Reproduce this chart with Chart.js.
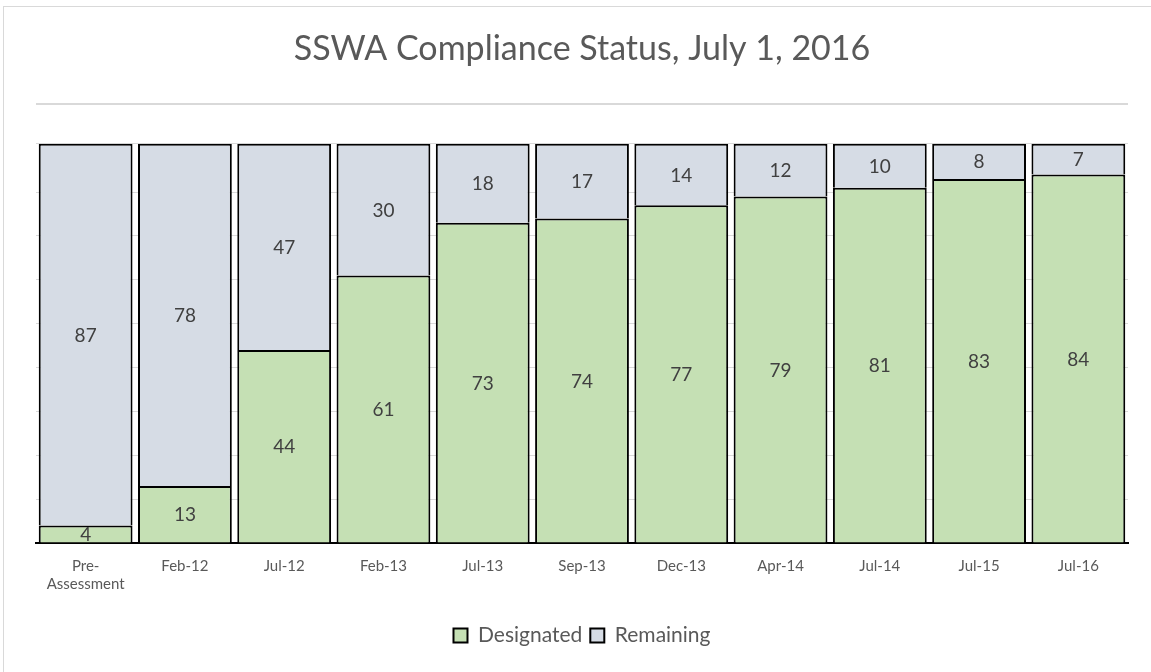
<!DOCTYPE html>
<html><head><meta charset="utf-8">
<script src="https://cdn.jsdelivr.net/npm/chart.js@4"></script>
<style>html,body{margin:0;padding:0;background:#fff}#wrap{width:1151px;height:672px}</style>
</head><body><div id="wrap"><canvas id="c" width="1151" height="672"></canvas></div>
<script>
const categories = [["Pre-","Assessment"],"Feb-12","Jul-12","Feb-13","Jul-13","Sep-13","Dec-13","Apr-14","Jul-14","Jul-15","Jul-16"];
const designated = [4,13,44,61,73,74,77,79,81,83,84];
const remaining = [87,78,47,30,18,17,14,12,10,8,7];
const titleText = "SSWA Compliance Status, July 1, 2016";
const FONT = "Lato, 'Open Sans', sans-serif";

const bgPlugin = {
  id:'bg',
  beforeDraw(chart){
    const ctx = chart.ctx;
    ctx.save();
    ctx.fillStyle='#fff'; ctx.fillRect(0,0,chart.width,chart.height);
    ctx.strokeStyle='#d9d9d9'; ctx.lineWidth=1;
    ctx.strokeRect(3.5,6.5,1150,670);
    const a = chart.chartArea;
    ctx.beginPath(); ctx.lineWidth=2; ctx.moveTo(a.left,104); ctx.lineTo(a.right,104); ctx.stroke();
    ctx.restore();
  }
};
const labelPlugin = {
  id:'vals',
  afterDatasetsDraw(chart){
    const ctx = chart.ctx;
    ctx.save();
    ctx.font = "19px " + FONT;
    ctx.fillStyle = '#404040';
    ctx.textAlign='center'; ctx.textBaseline='middle';
    chart.data.datasets.forEach((ds,i)=>{
      const meta = chart.getDatasetMeta(i);
      meta.data.forEach((el,j)=>{
        const p = el.getProps(['x','y','base'],true);
        ctx.fillText(String(ds.data[j]), p.x, (p.y+p.base)/2 + 1);
      });
    });
    ctx.restore();
  }
};

new Chart(document.getElementById('c'), {
  type:'bar',
  data:{
    labels: categories,
    datasets:[
      {label:'Designated', data:designated, backgroundColor:'#c5e0b4', borderColor:'#000', borderWidth:2, barPercentage:0.945, categoryPercentage:1},
      {label:'Remaining', data:remaining, backgroundColor:'#d6dce5', borderColor:'#000', borderWidth:2, barPercentage:0.945, categoryPercentage:1}
    ]
  },
  options:{
    responsive:false, animation:false,
    layout:{padding:{left:36,right:23,top:0,bottom:16}},
    plugins:{
      title:{display:true, text:titleText, color:'#595959', font:{family:FONT, size:34, weight:'normal'}, padding:{top:29,bottom:74}},
      legend:{position:'bottom', labels:{color:'#595959', font:{family:FONT,size:21}, boxWidth:14, boxHeight:14, padding:8}},
      tooltip:{enabled:false}
    },
    scales:{
      x:{stacked:true, grid:{display:false, drawTicks:false}, border:{color:'#000', width:2},
         ticks:{color:'#595959', font:{family:FONT,size:15}, padding:14, maxRotation:0, autoSkip:false},
         afterFit(s){s.height=74;}},
      y:{stacked:true, min:0, max:91, ticks:{display:false, stepSize:10}, border:{display:false},
         grid:{color:'#d9d9d9', drawTicks:false}, afterFit(s){s.width=0;}}
    }
  },
  plugins:[bgPlugin,labelPlugin]
});
</script></body></html>
